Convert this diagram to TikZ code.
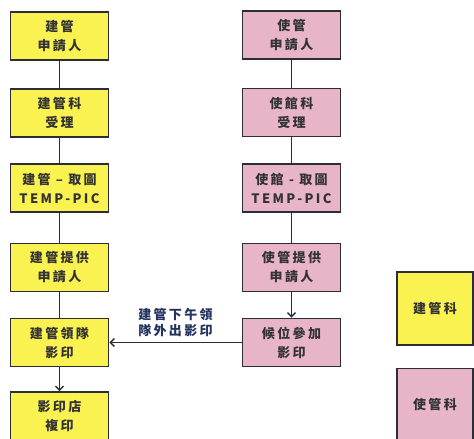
\documentclass[tikz,border=0pt]{standalone}
\usepackage{fontspec}
\usepackage{xcolor}
\usetikzlibrary{arrows.meta}
\newfontfamily\cjk[LetterSpace=18]{Noto Sans CJK TC}
\definecolor{jgyellow}{RGB}{250,242,80}
\definecolor{sgpink}{RGB}{232,180,200}
\definecolor{boxline}{RGB}{45,45,55}
\definecolor{notenavy}{RGB}{35,50,95}
\tikzset{
  flowbox/.style={draw=boxline, line width=1.6pt, minimum width=98pt, minimum height=48pt,
    inner sep=0pt, align=center, font=\cjk\bfseries\fontsize{13}{19}\selectfont, text=black!80},
  jgbox/.style={flowbox, fill=jgyellow},
  sgbox/.style={flowbox, fill=sgpink},
  keybox/.style={draw=boxline, line width=1.4pt, minimum width=76pt, minimum height=73pt,
    inner sep=0pt, font=\cjk\bfseries\fontsize{13}{15}\selectfont, text=black!80},
  link/.style={draw=boxline, line width=1.5pt},
  flowarrow/.style={link, -{Straight Barb[length=4pt,width=8pt]}}
}
\begin{document}
\begin{tikzpicture}[x=1pt, y=-1pt]
\path[use as bounding box, clip] (0,0) rectangle (474,439);
\fill[white] (0,0) rectangle (474,439);

% left column
\node[jgbox] (jgApply) at (59.5,36) {建管\\申請人};
\node[jgbox] (jgAccept) at (59.5,113) {建管科\\受理};
\node[jgbox] (jgPic) at (59.5,188) {建管 – 取圖\\TEMP-PIC};
\node[jgbox] (jgGive) at (59.5,267.5) {建管提供\\申請人};
\node[jgbox] (jgLead) at (59.5,342.5) {建管領隊\\影印};
\node[jgbox] (jgShop) at (59.5,416) {影印店\\複印};

% right column
\node[sgbox] (sgApply) at (291.5,35) {使管\\申請人};
\node[sgbox] (sgAccept) at (291.5,112.5) {使館科\\受理};
\node[sgbox] (sgPic) at (291.5,188) {使館 - 取圖\\TEMP-PIC};
\node[sgbox] (sgGive) at (291.5,267.5) {使管提供\\申請人};
\node[sgbox] (sgWait) at (291.5,342.5) {候位參加\\影印};

% legend
\node[keybox, fill=jgyellow] (keyJg) at (435,308.5) {建管科};
\node[keybox, fill=sgpink] (keySg) at (435,405) {使管科};

% connectors
\draw[link] (jgApply) -- (jgAccept);
\draw[link] (jgAccept) -- (jgPic);
\draw[link] (jgPic) -- (jgGive);
\draw[link] (jgGive) -- (jgLead);
\draw[flowarrow] (jgLead) -- (jgShop);
\draw[link] (sgApply) -- (sgAccept);
\draw[link] (sgAccept) -- (sgPic);
\draw[link] (sgPic) -- (sgGive);
\draw[flowarrow] (sgGive) -- (sgWait);
\draw[flowarrow] (sgWait) -- node[above=2pt, align=center, text=notenavy,
  font=\cjk\bfseries\fontsize{13}{16}\selectfont] (outNote) {建管下午領\\隊外出影印} (jgLead);
\end{tikzpicture}
\end{document}
